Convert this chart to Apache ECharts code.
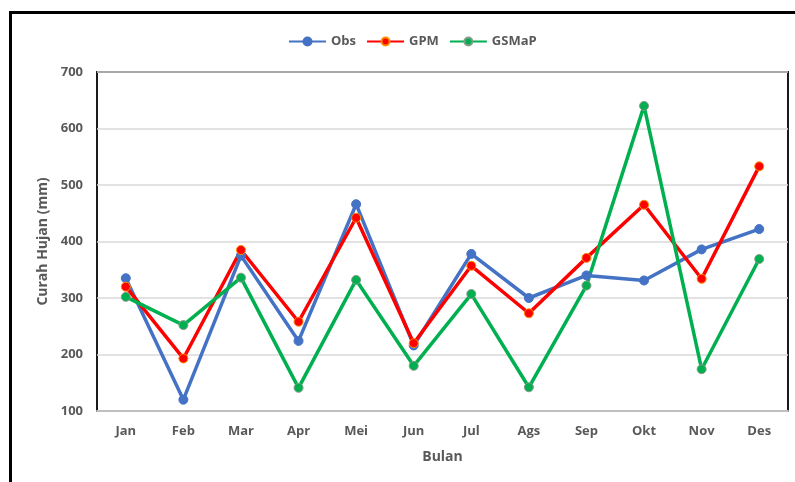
<!DOCTYPE html>
<html>
<head>
<meta charset="utf-8">
<script src="https://cdn.jsdelivr.net/npm/echarts@6/dist/echarts.min.js"></script>
<style>
    html, body { margin: 0; padding: 0; background: #fff; }
    #box { width: 795px; height: 482px; }
</style>
</head>
<body>
<div id="box"></div>
<script>
// data
var months = ['Jan', 'Feb', 'Mar', 'Apr', 'Mei', 'Jun', 'Jul', 'Ags', 'Sep', 'Okt', 'Nov', 'Des'];
var obs = [335, 120, 375, 224, 466, 216, 378, 300, 340, 331, 386, 422];
var gpm = [320, 193, 385, 258, 442, 220, 357, 273, 371, 465, 334, 533];
var gsmap = [302, 252, 336, 141, 332, 180, 307, 142, 322, 640, 174, 369];
var yTicks = [100, 200, 300, 400, 500, 600, 700];

var textColor = '#595959';
var fontFam = '"Open Sans", "Liberation Sans", sans-serif';

var myChart = echarts.init(document.getElementById('box'));

function makeSeries(name, data, color, border) {
    return {
        name: name,
        type: 'line',
        data: data,
        symbol: 'circle',
        symbolSize: 9,
        lineStyle: { color: color, width: 3.5 },
        itemStyle: { color: color, borderColor: border, borderWidth: 1 },
        emphasis: { disabled: true }
    };
}

var option = {
    backgroundColor: '#fff',
    animation: false,
    graphic: [{
        type: 'rect',
        shape: { x: 10.5, y: 12.5, width: 800, height: 490 },
        style: { fill: 'none', stroke: '#000', lineWidth: 3 },
        silent: true
    }],
    legend: {
        left: 283,
        top: 30,
        itemWidth: 37,
        itemHeight: 10,
        itemGap: 10,
        textStyle: { color: textColor, fontSize: 13, fontWeight: 'bold', fontFamily: fontFam },
        data: ['Obs', 'GPM', 'GSMaP']
    },
    grid: {
        left: 97,
        top: 72,
        right: 7,
        bottom: 71,
        show: true,
        borderColor: '#1a1a1a',
        borderWidth: 2,
        containLabel: false
    },
    xAxis: {
        type: 'category',
        data: months,
        boundaryGap: true,
        name: 'Bulan',
        nameLocation: 'middle',
        nameGap: 39,
        nameTextStyle: { color: textColor, fontSize: 14, fontWeight: 'bold', fontFamily: fontFam },
        axisTick: { show: false },
        axisLine: { lineStyle: { color: '#bfbfbf', width: 2 } },
        axisLabel: { color: textColor, fontSize: 13, fontWeight: 'bold', fontFamily: fontFam, margin: 14 }
    },
    yAxis: {
        type: 'value',
        min: yTicks[0],
        max: yTicks[yTicks.length - 1],
        interval: 100,
        name: 'Curah Hujan (mm)',
        nameLocation: 'middle',
        nameGap: 46,
        nameTextStyle: { color: textColor, fontSize: 14, fontWeight: 'bold', fontFamily: fontFam },
        axisLine: { show: false },
        axisTick: { show: false },
        axisLabel: { color: textColor, fontSize: 13, fontWeight: 'bold', fontFamily: fontFam, margin: 14 },
        splitLine: { lineStyle: { color: '#d9d9d9', width: 1.5 } }
    },
    series: [
        makeSeries('Obs', obs, '#4472C4', '#4472C4'),
        makeSeries('GPM', gpm, '#FF0000', '#FF8C00'),
        makeSeries('GSMaP', gsmap, '#00B050', '#8a9a8a')
    ]
};

myChart.setOption(option);
</script>
</body>
</html>
